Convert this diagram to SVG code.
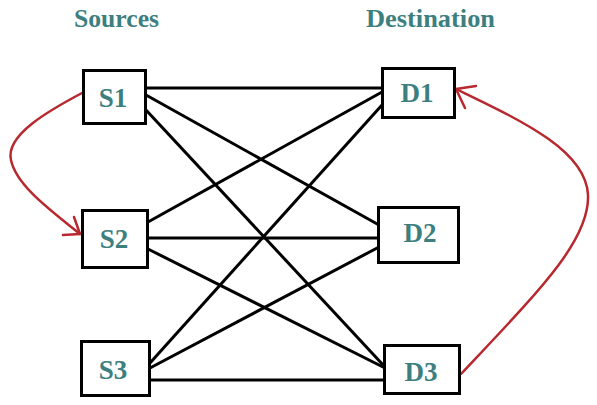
<svg xmlns="http://www.w3.org/2000/svg" width="597" height="405" viewBox="0 0 597 405">
<style>
.box{fill:#fff;stroke:#000;stroke-width:3}
.lbl{font-family:"Liberation Serif","Times New Roman",serif;font-weight:bold;font-size:27px;fill:#3d7f7f;text-anchor:middle}
.title{font-family:"Liberation Serif","Times New Roman",serif;font-weight:bold;font-size:25px;fill:#3d7f7f}
.edge{stroke:#000;stroke-width:3;fill:none}
.red{stroke:#b8282f;stroke-width:2.5;fill:none;stroke-linecap:round;stroke-linejoin:round}
</style>
<rect width="597" height="405" fill="#fff"/>
<text class="title" x="74" y="27" textLength="85" lengthAdjust="spacingAndGlyphs">Sources</text>
<text class="title" x="366" y="27" textLength="129" lengthAdjust="spacingAndGlyphs">Destination</text>
<g id="connectors">
<line class="edge" x1="146" y1="88" x2="382" y2="88"/>
<line class="edge" x1="146" y1="95" x2="379" y2="225"/>
<line class="edge" x1="146" y1="110" x2="385" y2="367"/>
<line class="edge" x1="148" y1="222" x2="382" y2="92"/>
<line class="edge" x1="148" y1="238" x2="379" y2="238"/>
<line class="edge" x1="148" y1="249" x2="385" y2="368"/>
<line class="edge" x1="150" y1="363" x2="382" y2="105"/>
<line class="edge" x1="150" y1="368" x2="379" y2="247"/>
<line class="edge" x1="150" y1="380" x2="385" y2="380"/>
<path class="red" d="M82,93 C50,110 5,135 11,160 C16,185 50,210 80,234"/>
<path class="red" d="M63,235 L80,234 L74,217"/>
<path class="red" d="M461,374 C540,290 590,240 588,195 C586,150 520,120 456,89"/>
<path class="red" d="M476,86 L456,89 L465,108"/>
</g>
<g id="S1"><rect class="box" x="83.5" y="70.5" width="62" height="53"/><text class="lbl" x="113" y="107">S1</text></g>
<g id="S2"><rect class="box" x="82.5" y="210.5" width="65" height="57"/><text class="lbl" x="114" y="248">S2</text></g>
<g id="S3"><rect class="box" x="81.5" y="341.5" width="68" height="54"/><text class="lbl" x="113" y="379">S3</text></g>
<g id="D1"><rect class="box" x="382.5" y="68.5" width="72" height="49"/><text class="lbl" x="417" y="102">D1</text></g>
<g id="D2"><rect class="box" x="378.5" y="207.5" width="80" height="55"/><text class="lbl" x="420" y="242">D2</text></g>
<g id="D3"><rect class="box" x="384.5" y="345.5" width="75" height="48"/><text class="lbl" x="421" y="381">D3</text></g>
</svg>
